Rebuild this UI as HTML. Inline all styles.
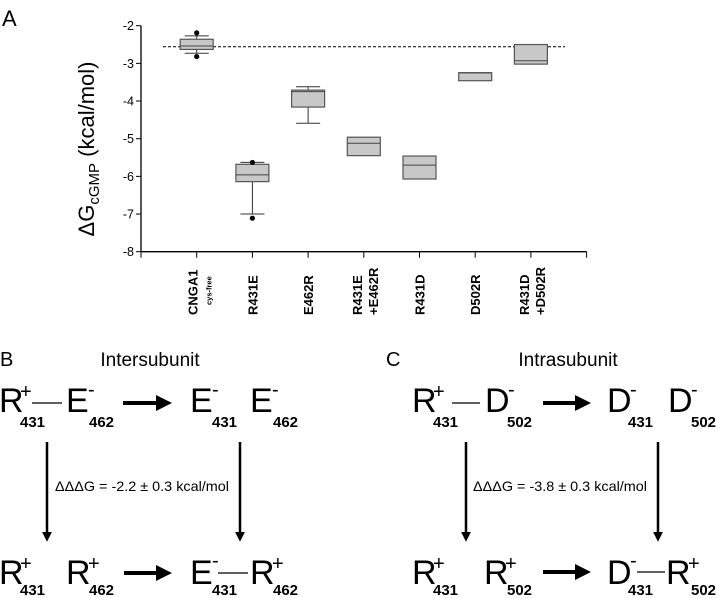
<!DOCTYPE html>
<html><head><meta charset="utf-8"><style>
body{margin:0;background:#fff}
svg{display:block;font-family:"Liberation Sans",sans-serif}
.big{font-size:34px}
.sub{font-size:15px;font-weight:bold}
.sup{font-size:20px}
</style></head><body>
<svg width="720" height="598" viewBox="0 0 720 598">
<defs><marker id="ah" markerWidth="4" markerHeight="4" refX="2.5" refY="2" orient="auto" markerUnits="strokeWidth"><path d="M0,0 L4,2 L0,4 z" fill="#000"/></marker></defs>
<text x="2" y="26" font-size="22">A</text>
<g id="chart"></g>
<text x="0" y="366" font-size="20">B</text>
<text x="150" y="366" font-size="19" text-anchor="middle">Intersubunit</text>
<text x="386" y="366" font-size="20">C</text>
<text x="568" y="366" font-size="19" text-anchor="middle">Intrasubunit</text>
<g>
<text class="big" x="-1" y="412">R</text><text class="sup" x="20" y="398">+</text><text class="sub" x="20" y="427">431</text>
<line x1="32" y1="403" x2="62" y2="403" stroke="#000" stroke-width="1.2"/>
<text class="big" x="66" y="412">E</text><text class="sup" x="88" y="396">-</text><text class="sub" x="89" y="427">462</text>
<line x1="123" y1="403" x2="166" y2="403" stroke="#000" stroke-width="4" marker-end="url(#ah)"/>
<text class="big" x="190" y="412">E</text><text class="sup" x="212" y="396">-</text><text class="sub" x="212" y="427">431</text>
<text class="big" x="250" y="412">E</text><text class="sup" x="272" y="396">-</text><text class="sub" x="273" y="427">462</text>
<line x1="47" y1="442" x2="47" y2="538" stroke="#000" stroke-width="2.5" marker-end="url(#ah)"/>
<line x1="240" y1="442" x2="240" y2="538" stroke="#000" stroke-width="2.5" marker-end="url(#ah)"/>
<text x="55" y="491" font-size="14" textLength="174" lengthAdjust="spacingAndGlyphs">ΔΔΔG = -2.2 ± 0.3 kcal/mol</text>
<text class="big" x="-1" y="584">R</text><text class="sup" x="20" y="570">+</text><text class="sub" x="20" y="595">431</text>
<text class="big" x="66" y="584">R</text><text class="sup" x="88" y="570">+</text><text class="sub" x="89" y="595">462</text>
<line x1="124" y1="573" x2="166" y2="573" stroke="#000" stroke-width="4" marker-end="url(#ah)"/>
<text class="big" x="190" y="584">E</text><text class="sup" x="212" y="567">-</text><text class="sub" x="212" y="595">431</text>
<line x1="218" y1="573" x2="248" y2="573" stroke="#000" stroke-width="1.2"/>
<text class="big" x="250" y="584">R</text><text class="sup" x="272" y="570">+</text><text class="sub" x="273" y="595">462</text>
</g>
<g>
<text class="big" x="412" y="412">R</text><text class="sup" x="433" y="398">+</text><text class="sub" x="433" y="427">431</text>
<line x1="452" y1="403" x2="480" y2="403" stroke="#000" stroke-width="1.2"/>
<text class="big" x="485" y="412">D</text><text class="sup" x="508" y="396">-</text><text class="sub" x="507" y="427">502</text>
<line x1="543" y1="403" x2="585" y2="403" stroke="#000" stroke-width="4" marker-end="url(#ah)"/>
<text class="big" x="607" y="412">D</text><text class="sup" x="630" y="396">-</text><text class="sub" x="628" y="427">431</text>
<text class="big" x="668" y="412">D</text><text class="sup" x="691" y="396">-</text><text class="sub" x="691" y="427">502</text>
<line x1="466" y1="442" x2="466" y2="538" stroke="#000" stroke-width="2.5" marker-end="url(#ah)"/>
<line x1="658" y1="442" x2="658" y2="538" stroke="#000" stroke-width="2.5" marker-end="url(#ah)"/>
<text x="473" y="491" font-size="14" textLength="174" lengthAdjust="spacingAndGlyphs">ΔΔΔG = -3.8 ± 0.3 kcal/mol</text>
<text class="big" x="412" y="584">R</text><text class="sup" x="433" y="570">+</text><text class="sub" x="433" y="595">431</text>
<text class="big" x="484" y="584">R</text><text class="sup" x="505" y="570">+</text><text class="sub" x="507" y="595">502</text>
<line x1="543" y1="572" x2="585" y2="572" stroke="#000" stroke-width="4" marker-end="url(#ah)"/>
<text class="big" x="607" y="584">D</text><text class="sup" x="630" y="567">-</text><text class="sub" x="628" y="595">431</text>
<line x1="637" y1="572" x2="665" y2="572" stroke="#000" stroke-width="1.2"/>
<text class="big" x="666" y="584">R</text><text class="sup" x="688" y="570">+</text><text class="sub" x="691" y="595">502</text>
</g>
</svg>
<script>
const categories=["CNGA1","R431E","E462R","R431E+E462R","R431D","D502R","R431D+D502R"];
const q1=[-2.63,-6.14,-4.16,-5.45,-6.07,-3.46,-3.02];
const q3=[-2.36,-5.68,-3.71,-4.96,-5.46,-3.25,-2.5];
const medians=[-2.54,-5.96,-3.75,-5.12,-5.7,-3.25,-2.93];
const whiskLo=[-2.73,-7.0,-4.59,null,null,null,null];
const whiskHi=[-2.27,-5.63,-3.62,null,null,null,null];
const outliers=[[-2.19,-2.82],[-5.63,-7.11],[],[],[],[],[]];
const yTicks=[-2,-3,-4,-5,-6,-7,-8];
const refLine=-2.56;
const NS="http://www.w3.org/2000/svg";
const g=document.getElementById('chart');
const X0=141,YT=25.7,YB=251.7,STEP=55.7;
const y=v=>YT+(-2-v)*((YB-YT)/6);
const x=i=>X0+(i+1)*STEP;
function mk(t,a,p){const e=document.createElementNS(NS,t);for(const k in a)e.setAttribute(k,a[k]);(p||g).appendChild(e);return e;}
let ax=mk('line',{x1:X0,y1:YT,x2:X0,y2:YB,stroke:'#000','stroke-width':1.3});


let xa=mk('line',{x1:X0,y1:YB,x2:X0+8*STEP,y2:YB,stroke:'#000','stroke-width':1.3});


yTicks.forEach(v=>{
mk('line',{x1:X0-5,y1:y(v),x2:X0,y2:y(v),stroke:'#000'});
const t=mk('text',{x:X0-7,y:y(v)+4.5,'font-size':12.5,'text-anchor':'end'});t.textContent=v;


});
for(let i=-1;i<=categories.length;i++){const xx=X0+(i+1)*STEP;mk('line',{x1:xx,y1:YB,x2:xx,y2:YB+6,stroke:'#000'});}
const yl=mk('text',{transform:'translate(94,149) rotate(-90)','text-anchor':'middle','font-size':22});
yl.innerHTML='ΔG<tspan font-size="15" dy="5">cGMP</tspan><tspan dy="-5"> (kcal/mol)</tspan>';


const dl=mk('line',{x1:163,y1:y(refLine),x2:565,y2:y(refLine),stroke:'#000','stroke-dasharray':'3,2'});


const bw=33;
categories.forEach((c,i)=>{
const cx=x(i);
const bg=mk('g',{});


if(whiskLo[i]!==null){
mk('line',{x1:cx,y1:y(whiskHi[i]),x2:cx,y2:y(q3[i]),stroke:'#333'},bg);
mk('line',{x1:cx,y1:y(q1[i]),x2:cx,y2:y(whiskLo[i]),stroke:'#333'},bg);
mk('line',{x1:cx-12,y1:y(whiskHi[i]),x2:cx+12,y2:y(whiskHi[i]),stroke:'#333'},bg);
mk('line',{x1:cx-12,y1:y(whiskLo[i]),x2:cx+12,y2:y(whiskLo[i]),stroke:'#333'},bg);}
mk('rect',{x:cx-bw/2,y:y(q3[i]),width:bw,height:y(q1[i])-y(q3[i]),fill:'#c8c8c8',stroke:'#555','stroke-width':1.2},bg);
mk('line',{x1:cx-bw/2,y1:y(medians[i]),x2:cx+bw/2,y2:y(medians[i]),stroke:'#444'},bg);
outliers[i].forEach(v=>mk('circle',{cx:cx,cy:y(v),r:2.6,fill:'#000'},bg));
});
const labs=[["CNGA1","cys-free"],["R431E"],["E462R"],["R431E","+E462R"],["R431D"],["D502R"],["R431D","+D502R"]];
labs.forEach((l,i)=>{
const cx=x(i);
if(l[1]==='cys-free'){
const t=mk('text',{transform:`translate(${cx+1},315) rotate(-90)`,'font-size':13,'font-weight':'bold'});t.textContent=l[0];


const s=mk('text',{transform:`translate(${cx+15},305) rotate(-90)`,'font-size':7.5,'font-weight':'bold'});s.textContent=l[1];


}else if(l.length>1){
const t=mk('text',{transform:`translate(${cx-2},315) rotate(-90)`,'font-size':13,'font-weight':'bold'});
t.innerHTML=`<tspan x="0" y="0">${l[0]}</tspan><tspan x="0" y="16">${l[1]}</tspan>`;


}else{
const t=mk('text',{transform:`translate(${cx+5},315) rotate(-90)`,'font-size':13,'font-weight':'bold'});t.textContent=l[0];


}
});
</script>
</body></html>
